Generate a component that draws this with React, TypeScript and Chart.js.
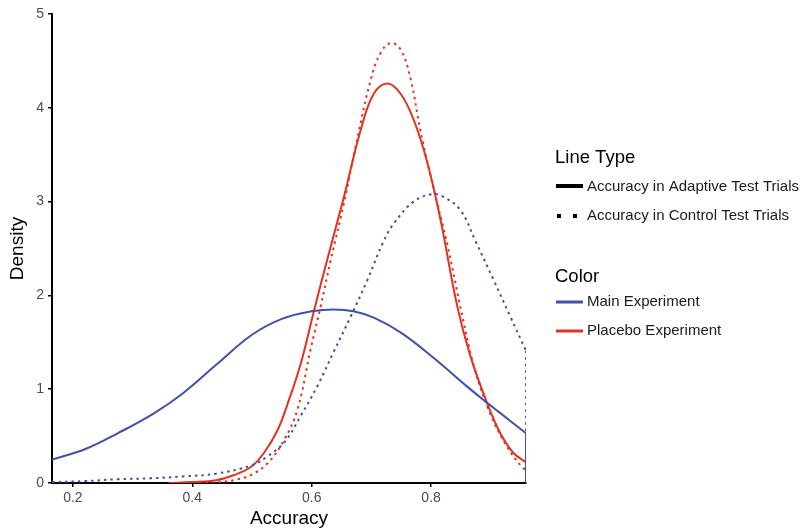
import React, { useEffect, useRef } from 'react';
import { Chart, registerables } from 'chart.js';

Chart.register(...registerables);

// ---- data ----
const xTicks = [0.2, 0.4, 0.6, 0.8];
const yTickStep = 1;
const xMin = 0.165;
const xMax = 0.959;
const yMin = 0;
const yMax = 5;

const mainAdaptiveX = [0.165, 0.22, 0.275, 0.335, 0.385, 0.44, 0.5, 0.55, 0.6, 0.637, 0.67, 0.705, 0.75, 0.805, 0.86, 0.895, 0.915, 0.959];
const mainAdaptiveY = [0.25, 0.36, 0.53, 0.74, 0.96, 1.26, 1.58, 1.75, 1.83, 1.85, 1.83, 1.76, 1.6, 1.33, 1.03, 0.85, 0.75, 0.53];

const mainControlX = [0.165, 0.22, 0.275, 0.33, 0.385, 0.44, 0.5, 0.525, 0.555, 0.582, 0.61, 0.637, 0.665, 0.693, 0.72, 0.738, 0.771, 0.802, 0.821, 0.849, 0.875, 0.905, 0.933, 0.959];
const mainControlY = [0.01, 0.02, 0.04, 0.05, 0.07, 0.1, 0.19, 0.28, 0.44, 0.72, 1.04, 1.4, 1.77, 2.16, 2.57, 2.77, 3.0, 3.08, 3.05, 2.91, 2.57, 2.16, 1.77, 1.41];

const placeboAdaptiveX = [0.36, 0.4, 0.44, 0.47, 0.498, 0.52, 0.543, 0.56, 0.582, 0.604, 0.626, 0.654, 0.682, 0.704, 0.727, 0.749, 0.771, 0.794, 0.816, 0.844, 0.866, 0.894, 0.916, 0.938, 0.959];
const placeboAdaptiveY = [0, 0.01, 0.03, 0.085, 0.17, 0.32, 0.565, 0.85, 1.28, 1.84, 2.38, 3.05, 3.76, 4.15, 4.26, 4.15, 3.87, 3.41, 2.8, 1.88, 1.35, 0.85, 0.53, 0.32, 0.22];

const placeboControlX = [0.4, 0.44, 0.469, 0.498, 0.526, 0.554, 0.576, 0.598, 0.615, 0.632, 0.654, 0.676, 0.699, 0.715, 0.732, 0.749, 0.766, 0.782, 0.805, 0.827, 0.849, 0.872, 0.899, 0.927, 0.952, 0.959];
const placeboControlY = [0, 0.01, 0.03, 0.085, 0.21, 0.46, 0.78, 1.42, 1.88, 2.38, 2.98, 3.66, 4.3, 4.58, 4.69, 4.62, 4.3, 3.76, 3.12, 2.55, 1.88, 1.24, 0.74, 0.39, 0.17, 0.14];

const lineTypeTitle = 'Line Type';
const lineTypeLabels = ['Accuracy in Adaptive Test Trials', 'Accuracy in Control Test Trials'];
const colorTitle = 'Color';
const colorLabels = ['Main Experiment', 'Placebo Experiment'];

const BLUE = '#3f51a9';
const RED = '#e5321f';
const FONT = '"Liberation Sans", Arial, Helvetica, sans-serif';
const DOTS = [2.5, 4];

const toPoints = (xs: number[], ys: number[]) => xs.map((x, i) => ({ x, y: ys[i] }));
// vertical closing segment of a trimmed density outline, from its last point down to zero
const dropTo0 = (xs: number[], ys: number[]) => [
  { x: xs[xs.length - 1], y: ys[ys.length - 1] },
  { x: xs[xs.length - 1], y: 0 },
];

const legendPlugin = {
  id: 'groupLegend',
  afterDraw(chart: any) {
    const { ctx, chartArea } = chart;
    const x0 = chartArea.right + 29;
    ctx.save();
    ctx.textAlign = 'left';
    ctx.textBaseline = 'middle';
    ctx.fillStyle = '#000';

    ctx.font = `18.5px ${FONT}`;
    ctx.fillText(lineTypeTitle, x0, 158);

    ctx.fillStyle = '#000';
    ctx.fillRect(x0 + 1, 184, 27, 4);
    ctx.fillRect(x0 + 2, 214, 4, 4);
    ctx.fillRect(x0 + 18, 214, 4, 4);

    ctx.font = `15px ${FONT}`;
    ctx.fillStyle = '#1a1a1a';
    ctx.fillText(lineTypeLabels[0], x0 + 32, 187);
    ctx.fillText(lineTypeLabels[1], x0 + 32, 216);

    ctx.fillStyle = '#000';
    ctx.font = `18.5px ${FONT}`;
    ctx.fillText(colorTitle, x0, 277);

    ctx.fillStyle = BLUE;
    ctx.fillRect(x0 + 1, 300.5, 27, 3);
    ctx.fillStyle = RED;
    ctx.fillRect(x0 + 1, 329.5, 27, 3);

    ctx.font = `15px ${FONT}`;
    ctx.fillStyle = '#1a1a1a';
    ctx.fillText(colorLabels[0], x0 + 32, 302);
    ctx.fillText(colorLabels[1], x0 + 32, 331);
    ctx.restore();
  },
};

export default function App() {
  const ref = useRef<HTMLCanvasElement | null>(null);

  useEffect(() => {
    if (!ref.current) return;
    const common = {
      pointRadius: 0,
      borderWidth: 2,
      fill: false,
      tension: 0.4,
      cubicInterpolationMode: 'default' as const,
    };
    const drop = { pointRadius: 0, borderWidth: 2, fill: false, tension: 0 };
    const chart = new Chart(ref.current, {
      type: 'line',
      data: {
        datasets: [
          { ...common, label: 'Main Control', data: toPoints(mainControlX, mainControlY), borderColor: BLUE, borderDash: DOTS },
          { ...drop, label: 'Main Control end', data: dropTo0(mainControlX, mainControlY), borderColor: BLUE, borderDash: DOTS },
          { ...common, label: 'Main Adaptive', data: toPoints(mainAdaptiveX, mainAdaptiveY), borderColor: BLUE },
          { ...drop, label: 'Main Adaptive end', data: dropTo0(mainAdaptiveX, mainAdaptiveY), borderColor: BLUE },
          { ...common, label: 'Placebo Control', data: toPoints(placeboControlX, placeboControlY), borderColor: RED, borderDash: DOTS },
          { ...drop, label: 'Placebo Control end', data: dropTo0(placeboControlX, placeboControlY), borderColor: RED, borderDash: DOTS },
          { ...common, label: 'Placebo Adaptive', data: toPoints(placeboAdaptiveX, placeboAdaptiveY), borderColor: RED },
          { ...drop, label: 'Placebo Adaptive end', data: dropTo0(placeboAdaptiveX, placeboAdaptiveY), borderColor: RED },
        ],
      },
      options: {
        animation: false,
        responsive: false,
        maintainAspectRatio: false,
        layout: { padding: { left: 0, right: 276, top: 14, bottom: 0 } },
        plugins: {
          legend: { display: false },
          tooltip: { enabled: false },
          title: { display: false },
        },
        scales: {
          x: {
            type: 'linear',
            min: xMin,
            max: xMax,
            afterBuildTicks: (s: any) => {
              s.ticks = xTicks.map((v) => ({ value: v }));
            },
            afterFit: (s: any) => {
              s.height = 47;
            },
            ticks: {
              callback: (v: any) => Number(v).toFixed(1),
              color: '#4d4d4d',
              font: { size: 14, family: FONT },
              padding: 3,
              maxRotation: 0,
              autoSkip: false,
            },
            grid: { display: true, drawOnChartArea: false, drawTicks: true, tickLength: 4, color: '#000', lineWidth: 1.5 },
            border: { display: true, color: '#000', width: 2 },
            title: { display: true, text: 'Accuracy', color: '#000', font: { size: 19, family: FONT }, padding: { top: 0, bottom: 0 } },
          },
          y: {
            type: 'linear',
            min: yMin,
            max: yMax,
            afterFit: (s: any) => {
              s.width = 52;
            },
            ticks: {
              stepSize: yTickStep,
              color: '#4d4d4d',
              font: { size: 14, family: FONT },
              padding: 4,
            },
            grid: { display: true, drawOnChartArea: false, drawTicks: true, tickLength: 4, color: '#000', lineWidth: 1.5 },
            border: { display: true, color: '#000', width: 2 },
            title: { display: true, text: 'Density', color: '#000', font: { size: 19, family: FONT }, padding: { top: 6, bottom: 0 } },
          },
        },
      },
      plugins: [legendPlugin],
    });
    return () => chart.destroy();
  }, []);

  return (
    <div style={{ position: 'fixed', left: 0, top: 0, width: 802, height: 530, background: '#fff' }}>
      <canvas ref={ref} width={802} height={530} style={{ width: 802, height: 530, display: 'block' }} />
    </div>
  );
}
